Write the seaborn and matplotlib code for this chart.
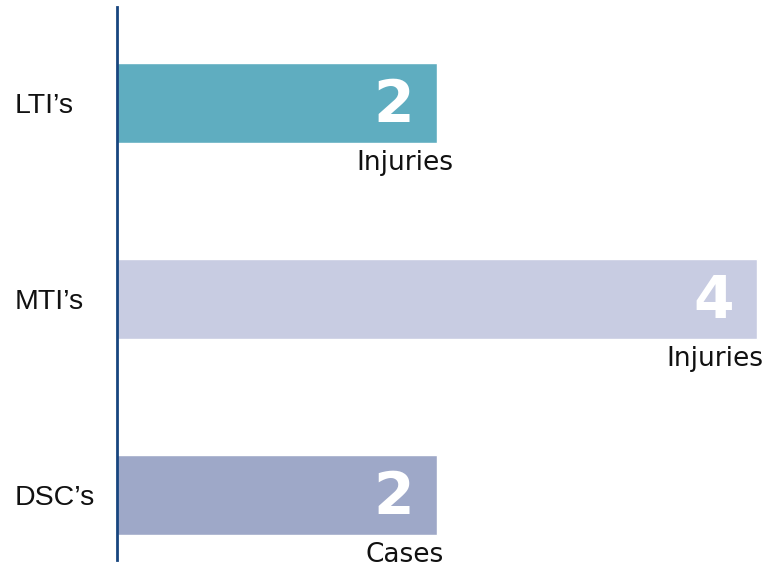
import matplotlib
matplotlib.use("Agg")
import matplotlib.pyplot as plt
import seaborn as sns
import pandas as pd

categories = ["LTI\u2019s", "MTI\u2019s", "DSC\u2019s"]
values = [2, 4, 2]
units = ["Injuries", "Injuries", "Cases"]
colors = ["#5FADC0", "#C8CCE2", "#9EA8C8"]

sns.set_theme(style="white")
plt.rcParams["font.family"] = ["Liberation Sans", "DejaVu Sans"]

df = pd.DataFrame({"category": categories, "value": values, "unit": units})

fig = plt.figure(figsize=(7.67, 5.67), dpi=100)
ax = fig.add_axes([117 / 767, 7 / 567, 650 / 767, 553 / 567])

sns.barplot(data=df, x="value", y="category", hue="category", palette=colors,
            orient="h", width=0.41, legend=False, ax=ax, saturation=1)

ax.set_xlim(0, 4 * 650 / 640)
ax.set_ylim(2.33, -0.49)

for s in ["top", "right", "bottom"]:
    ax.spines[s].set_visible(False)
ax.spines["left"].set_color("#17457F")
ax.spines["left"].set_linewidth(2)
ax.set_xticks([])
ax.set_xlabel("")
ax.set_ylabel("")
ax.tick_params(axis="y", length=0, pad=(117 - 15) * 0.72, labelsize=20.5, labelcolor="#111111")
for lab in ax.get_yticklabels():
    lab.set_horizontalalignment("left")

fig.canvas.draw()
renderer = fig.canvas.get_renderer()
for i, (v, u) in enumerate(zip(values, units)):
    ax.annotate(str(v), xy=(v, i), xytext=(-43 * 0.72, 4 * 0.72), textcoords="offset points",
                ha="center", va="center_baseline", color="white", fontsize=42,
                fontweight="bold", family=["DejaVu Sans"])
    t = ax.annotate(u, xy=(v, i + 0.205), xytext=(-32 * 0.72, -27 * 0.72), textcoords="offset points",
                    ha="center", va="baseline", color="#111111", fontsize=19,
                    family=["DejaVu Sans"])
    bb = t.get_window_extent(renderer)
    over = bb.x1 - (fig.bbox.width - 4)
    if over > 0:
        t.set_position((-(32 + over) * 0.72, -27 * 0.72))

fig.savefig("out.png", dpi=100)
